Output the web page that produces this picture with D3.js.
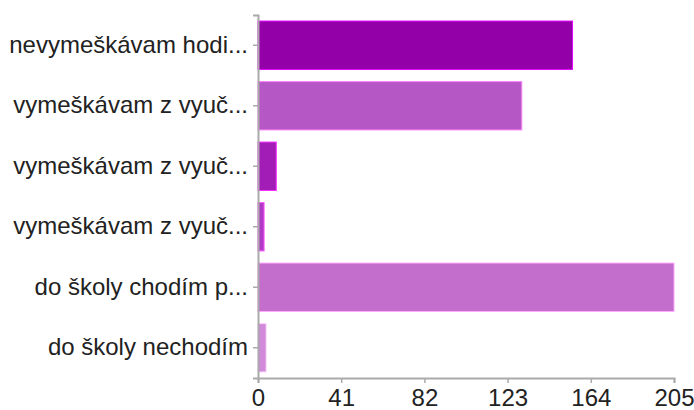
<!DOCTYPE html>
<html>
<head>
<meta charset="utf-8">
<script src="https://cdn.jsdelivr.net/npm/d3@7"></script>
<style>
  body { margin: 0; background: #fff; }
  text { font-family: "Liberation Sans", Arial, sans-serif; fill: #222; }
</style>
</head>
<body>
<div id="grafica"></div>
<script>
// odpovede (skrátené ako v grafe)
const categories = [
  "nevymeškávam hodi...",
  "vymeškávam z vyuč...",
  "vymeškávam z vyuč...",
  "vymeškávam z vyuč...",
  "do školy chodím p...",
  "do školy nechodím"
]
const values = [155, 130, 9, 3, 205, 4]
const barColors = ["#9400a8", "#b657c6", "#a21cb6", "#b03ac4", "#c36dcd", "#d18ad9"]
const xTicks = [0, 41, 82, 123, 164, 205]

const width = 694
const height = 410
const plotLeft = 258, plotRight = 674, plotTop = 15, plotBottom = 378

const svg = d3.select("#grafica")
  .append("svg")
  .attr("width", width)
  .attr("height", height)

const xScale = d3.scaleLinear()
  .domain([0, 205])
  .range([plotLeft, plotRight])

// index como clave porque las etiquetas se repiten
const yScale = d3.scaleBand()
  .domain(d3.range(categories.length))
  .range([plotTop, plotBottom])
  .paddingInner(0.2)
  .paddingOuter(0.1)

svg.selectAll("rect.bar")
  .data(values)
  .enter()
  .append("rect")
  .attr("class", "bar")
  .attr("x", xScale(0))
  .attr("y", (d, i) => yScale(i))
  .attr("width", d => xScale(d) - xScale(0))
  .attr("height", yScale.bandwidth())
  .attr("fill", (d, i) => barColors[i])
  .attr("stroke", (d, i) => d3.color(barColors[i]).brighter(1.2))
  .attr("stroke-width", 1)

const xAxis = d3.axisBottom(xScale)
  .tickValues(xTicks)
  .tickSizeOuter(0)
  .tickSize(5)
  .tickPadding(6)

const yAxis = d3.axisLeft(yScale)
  .tickFormat(i => categories[i])
  .tickSizeOuter(0)
  .tickSize(5)
  .tickPadding(5)

const gx = svg.append("g")
  .attr("transform", "translate(0," + plotBottom + ")")
  .call(xAxis)

const gy = svg.append("g")
  .attr("transform", "translate(" + plotLeft + ",0)")
  .call(yAxis)

gx.selectAll("text").attr("font-size", 24).style("font-family", "Liberation Sans, Arial, sans-serif")
gy.selectAll("text").attr("font-size", 24).style("font-family", "Liberation Sans, Arial, sans-serif")

svg.selectAll(".domain").attr("stroke", "#aaa").attr("stroke-width", 2)
svg.selectAll(".tick line").attr("stroke", "#aaa").attr("stroke-width", 1.5)
</script>
</body>
</html>
